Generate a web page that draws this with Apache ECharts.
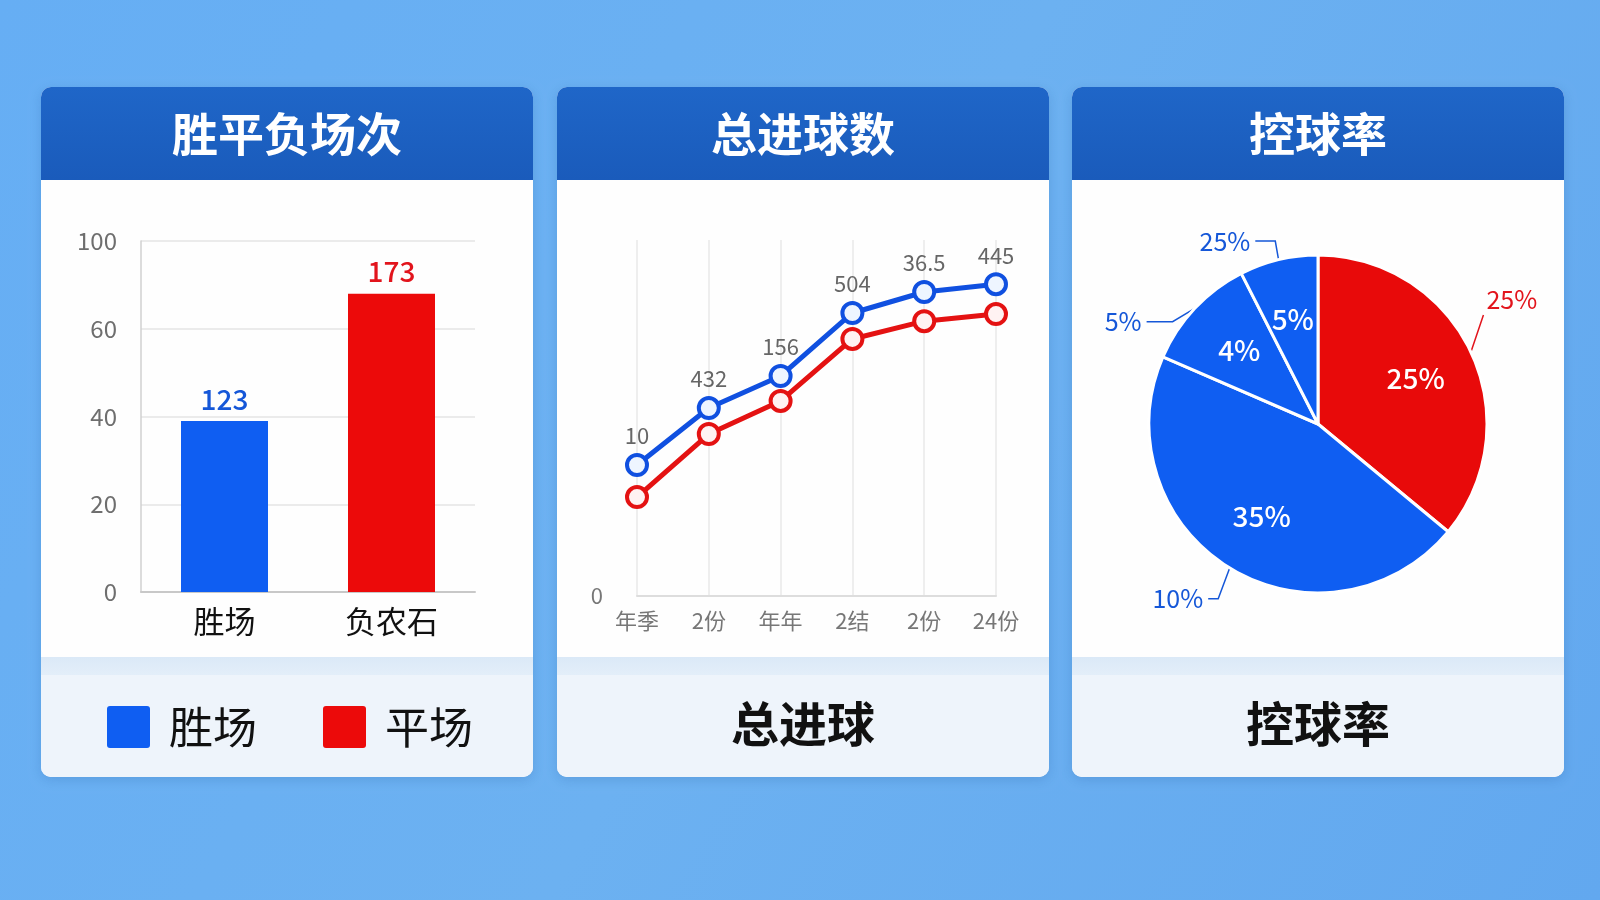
<!DOCTYPE html>
<html>
<head>
<meta charset="utf-8">
<script src="https://cdn.jsdelivr.net/npm/echarts@6/dist/echarts.min.js"></script>
<style>
  html, body { margin: 0; padding: 0; background: #66adf2; }
  #main { width: 1600px; height: 900px; }
</style>
</head>
<body>
<div id="main"></div>
<script>
// 胜平负场次
const barCategories = ['胜场', '负农石']
const barValues = [39, 68]
const barLabels = ['123', '173']
const barTickLabels = ['0', '20', '40', '60', '100']
const legendNames = ['胜场', '平场']

// 总进球数
const lineCategories = ['年季', '2份', '年年', '2结', '2份', '24份']
const blueLine = [36.8, 52.8, 61.8, 79.5, 85.4, 87.6]
const redLine = [27.8, 45.5, 54.8, 72.2, 77.2, 79.2]
const blueLineLabels = ['10', '432', '156', '504', '36.5', '445']

// 控球率
const pieNames = ['区域一', '区域二', '区域三', '区域四']
const pieValues = [36, 45.5, 11, 7.5]
const pieInnerLabels = ['25%', '35%', '4%', '5%']
const pieOuterLabels = ['25%', '10%', '5%', '25%']

const BLUE = '#0f5ef2'
const RED = '#ec0a0a'
const BLUE_TXT = '#1557d8'
const RED_TXT = '#e2141c'
const FONT = '"Noto Sans CJK SC", "Noto Sans", sans-serif'

const cardX = [41, 557, 1072]
const cardW = 492
const cardTop = 87
const headerBottom = 180
const footerTop = 657
const cardBottom = 777
const headerTitles = ['胜平负场次', '总进球数', '控球率']
const footerTitles = [null, '总进球', '控球率']

// pie outer label line shapes and nudges per slice
const pieLineLen = [[26, 8], [22, 10], [14, 26], [14, 20]]
const pieLabelShift = [[-21, -41], [0, 12], [-12, 23], [0, -5]]

const graphics = [{
  type: 'rect', z: -20, shape: { x: 0, y: 0, width: 1600, height: 900 },
  style: { fill: new echarts.graphic.LinearGradient(0, 0, 1, 1, [
    { offset: 0, color: '#66aef4' }, { offset: 0.5, color: '#6cb1f1' }, { offset: 1, color: '#62a8ef' }
  ]) }
}]
cardX.forEach((x, i) => {
  graphics.push({
    type: 'rect', z: -10,
    shape: { x: x, y: cardTop, width: cardW, height: cardBottom - cardTop, r: 10 },
    style: { fill: '#fefefe', shadowBlur: 12, shadowColor: 'rgba(20,70,140,0.18)', shadowOffsetY: 3 }
  })
  graphics.push({
    type: 'rect', z: -9,
    shape: { x: x, y: cardTop, width: cardW, height: headerBottom - cardTop, r: [10, 10, 0, 0] },
    style: { fill: new echarts.graphic.LinearGradient(0, 0, 0, 1, [
      { offset: 0, color: '#1f66c8' }, { offset: 1, color: '#1a5bbb' }
    ]) }
  })
  graphics.push({
    type: 'rect', z: -9,
    shape: { x: x, y: footerTop, width: cardW, height: cardBottom - footerTop, r: [0, 0, 10, 10] },
    style: { fill: '#eef4fb' }
  })
  graphics.push({
    type: 'rect', z: -8,
    shape: { x: x, y: footerTop, width: cardW, height: 18 },
    style: { fill: new echarts.graphic.LinearGradient(0, 0, 0, 1, [
      { offset: 0, color: '#dbe9f7' }, { offset: 1, color: '#e3eef9' }
    ]) }
  })
  graphics.push({
    type: 'text', z: 5,
    style: { text: headerTitles[i], x: x + cardW / 2, y: 134, align: 'center', verticalAlign: 'middle',
      fill: '#ffffff', font: 'bold 46px ' + FONT }
  })
  if (footerTitles[i]) {
    graphics.push({
      type: 'text', z: 5,
      style: { text: footerTitles[i], x: x + cardW / 2, y: 724, align: 'center', verticalAlign: 'middle',
        fill: '#111111', font: 'bold 48px ' + FONT }
    })
  }
})

const chart = echarts.init(document.getElementById('main'))
chart.setOption({
  animation: false,
  textStyle: { fontFamily: FONT },
  graphic: graphics,
  legend: {
    data: legendNames,
    left: 102, top: 700,
    itemWidth: 43, itemHeight: 42, itemGap: 66,
    icon: 'path://M3,0 L40,0 Q43,0 43,3 L43,39 Q43,42 40,42 L3,42 Q0,42 0,39 L0,3 Q0,0 3,0 Z',
    textStyle: { fontSize: 44, color: '#111', padding: [0, 0, 0, 14] },
    selectedMode: false
  },
  grid: [
    { left: 141, top: 241, width: 334, height: 351 },
    { left: 637, top: 240, width: 359, height: 356 }
  ],
  xAxis: [
    {
      gridIndex: 0, type: 'category', data: barCategories,
      axisLine: { lineStyle: { color: '#c8c8c8', width: 2 } },
      axisTick: { show: false },
      axisLabel: { fontSize: 31, color: '#111', margin: 14 }
    },
    {
      gridIndex: 1, type: 'category', data: lineCategories, boundaryGap: false,
      axisLine: { lineStyle: { color: '#dddddd', width: 2 } },
      axisTick: { show: false },
      axisLabel: { fontSize: 22, color: '#777', margin: 14 },
      splitLine: { show: true, lineStyle: { color: '#e8e8e8', width: 1.5 } }
    }
  ],
  yAxis: [
    {
      gridIndex: 0, type: 'value', min: 0, max: 80, interval: 20,
      axisLine: { show: true, lineStyle: { color: '#d0d0d0', width: 1.5 } },
      axisTick: { show: false },
      axisLabel: { fontSize: 24, color: '#6e6e6e', margin: 24,
        formatter: (v) => barTickLabels[Math.round(v / 20)] },
      splitLine: { lineStyle: { color: '#e4e4e4', width: 1.5 } }
    },
    {
      gridIndex: 1, type: 'value', min: 0, max: 100, interval: 100,
      axisLine: { show: false },
      axisTick: { show: false },
      axisLabel: { fontSize: 22, color: '#777', margin: 34, showMaxLabel: false },
      splitLine: { show: false }
    }
  ],
  series: [
    {
      name: legendNames[0], type: 'bar', xAxisIndex: 0, yAxisIndex: 0,
      data: barValues.map((v, i) => (i === 0 ? v : '-')),
      barWidth: 87, barGap: '-100%',
      itemStyle: { color: BLUE },
      label: { show: true, position: 'top', distance: 8, fontSize: 28, fontWeight: 500, color: BLUE_TXT,
        formatter: (p) => barLabels[p.dataIndex] }
    },
    {
      name: legendNames[1], type: 'bar', xAxisIndex: 0, yAxisIndex: 0,
      data: barValues.map((v, i) => (i === 1 ? v : '-')),
      barWidth: 87, barGap: '-100%',
      itemStyle: { color: RED },
      label: { show: true, position: 'top', distance: 8, fontSize: 28, fontWeight: 500, color: RED_TXT,
        formatter: (p) => barLabels[p.dataIndex] }
    },
    {
      name: '平场进球', type: 'line', xAxisIndex: 1, yAxisIndex: 1, data: redLine,
      symbol: 'circle', symbolSize: 20, z: 3,
      lineStyle: { color: '#e41212', width: 5 },
      itemStyle: { color: '#fff2f2', borderColor: '#e41212', borderWidth: 4 }
    },
    {
      name: '胜场进球', type: 'line', xAxisIndex: 1, yAxisIndex: 1, data: blueLine,
      symbol: 'circle', symbolSize: 20, z: 4,
      lineStyle: { color: '#1050e0', width: 5 },
      itemStyle: { color: '#eef5ff', borderColor: '#1050e0', borderWidth: 4 },
      label: { show: true, position: 'top', distance: 6, fontSize: 22, color: '#666',
        formatter: (p) => blueLineLabels[p.dataIndex] }
    },
    {
      name: '控球率', type: 'pie', center: [1318, 424], radius: 169, startAngle: 90,
      avoidLabelOverlap: false,
      itemStyle: { borderColor: '#ffffff', borderWidth: 3 },
      data: pieValues.map((v, i) => ({
        name: pieNames[i], value: v,
        itemStyle: { color: i === 0 ? '#e80a0a' : BLUE },
        label: { color: i === 0 ? RED_TXT : BLUE_TXT },
        labelLine: { length: pieLineLen[i][0], length2: pieLineLen[i][1],
          lineStyle: { color: i === 0 ? RED_TXT : BLUE_TXT } }
      })),
      label: { show: true, position: 'outside', fontSize: 25,
        formatter: (p) => pieOuterLabels[p.dataIndex] },
      labelLine: { show: true, lineStyle: { width: 1.5 } },
      labelLayout: (p) => {
        const s = pieLabelShift[p.dataIndex]
        const pts = p.labelLinePoints
        if (!pts) return { dx: s[0], dy: s[1] }
        let end = [pts[2][0] + s[0], pts[2][1] + s[1]]
        let mid = [pts[1][0] + s[0], pts[1][1] + s[1]]
        if (p.dataIndex === 0) {
          // diagonal leader ending under the label's left side
          end = [end[0] + 2, end[1] + 15]
          mid = [(pts[0][0] + end[0]) / 2, (pts[0][1] + end[1]) / 2]
        }
        return { dx: s[0], dy: s[1], labelLinePoints: [pts[0], mid, end] }
      }
    },
    {
      name: '控球率标签', type: 'pie', center: [1318, 424], radius: 210, startAngle: 90,
      silent: true, z: 5,
      itemStyle: { color: 'rgba(0,0,0,0)', borderWidth: 0 },
      data: pieValues.map((v, i) => ({ name: pieNames[i], value: v })),
      label: { show: true, position: 'inside', fontSize: 28, fontWeight: 500, color: '#ffffff',
        formatter: (p) => pieInnerLabels[p.dataIndex] },
      labelLine: { show: false }
    }
  ]
})
</script>
</body>
</html>
